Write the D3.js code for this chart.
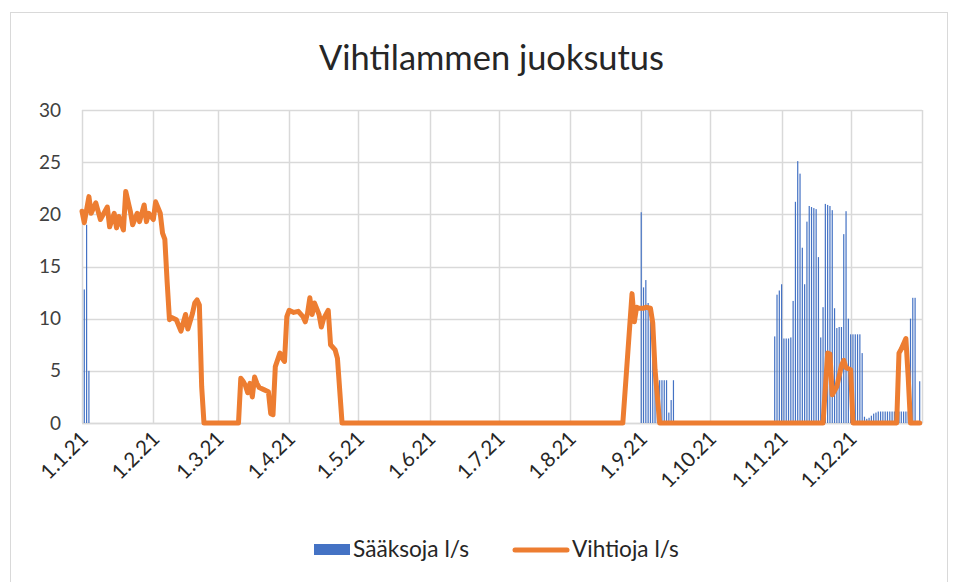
<!DOCTYPE html>
<html><head><meta charset="utf-8">
<script src="https://cdn.jsdelivr.net/npm/d3@7"></script>
<style>body{margin:0;background:#fff} text{font-family:Lato,"Open Sans",sans-serif}</style>
</head><body><svg id="c" width="959" height="582"></svg>
<script>
const chartTitle = "Vihtilammen juoksutus";
const seriesNames = ["Sääksoja l/s", "Vihtioja l/s"];
const monthTicks = ["2021-01-01","2021-02-01","2021-03-01","2021-04-01","2021-05-01","2021-06-01",
  "2021-07-01","2021-08-01","2021-09-01","2021-10-01","2021-11-01","2021-12-01"];
const yTicks = [0, 5, 10, 15, 20, 25, 30];

// Sääksoja l/s (columns): day of year (0 = 1.1.21) and value
const saaksojaDays = [1,2,3,
  243,244,245,246,247,248,249,250,251,252,253,254,255,256,257,
  301,302,303,304,305,306,307,308,309,310,311,312,313,314,315,316,317,318,319,320,
  321,322,323,324,325,326,327,328,329,330,331,332,333,
  334,335,336,337,338,339,340,341,342,343,344,345,
  346,347,348,349,350,351,352,353,354,355,356,357,358,359,360,361,362,364];
const saaksojaValues = [12.8,19.0,5.0,
  20.2,13.0,13.7,11.5,10.0,8.0,6.0,4.1,4.1,4.1,4.1,4.1,1.0,2.2,4.1,
  8.3,12.3,12.7,13.3,8.1,8.1,8.1,8.2,11.7,21.2,25.1,23.9,16.8,13.3,19.3,20.8,20.7,20.6,20.5,15.9,
  8.2,11.1,21.0,20.9,20.8,20.4,11.0,9.1,9.2,9.2,18.1,20.3,10.0,
  8.5,8.5,8.5,8.5,8.5,6.7,0.6,0.4,0.5,0.7,0.9,1.0,
  1.1,1.1,1.1,1.1,1.1,1.1,1.1,1.1,1.1,1.1,1.1,1.1,1.1,1.1,10.0,12.0,12.0,4.0];

// Vihtioja l/s (line): day of year and value
const vihtiojaDays = [0,1,3,4,6,8,11,12,14,15,16,18,19,21,22,24,25,27,28,29,31,32,34,35,36,37,38,
  39,41,43,45,46,48,49,50,51,52,53,
  68,69,70,71,72,73,74,75,76,77,79,81,82,83,84,86,87,88,89,90,92,94,96,97,98,99,100,101,103,104,105,107,108,110,111,113,
  235,239,240,241,242,244,245,247,248,249,251,
  322,324,325,326,328,330,331,332,334,335,
  354,355,356,358,359,360,364];
const vihtiojaValues = [20.3,19.2,21.7,20.1,21.1,19.5,20.7,18.8,20.1,18.7,19.8,18.5,22.2,20.3,19.0,20.1,19.3,20.9,19.3,20.1,19.5,21.2,20.1,18.2,17.6,13.5,9.9,
  10.1,9.9,8.8,10.4,9.0,10.5,11.5,11.8,11.3,3.5,0,
  0,4.3,4.0,3.6,2.9,3.8,2.5,4.4,3.8,3.4,3.2,3.0,0.9,0.8,5.4,6.7,6.2,5.9,10.2,10.8,10.6,10.7,10.2,9.7,10.5,12.0,10.4,11.5,10.4,9.2,10.0,10.8,7.5,7.0,6.2,0,
  0,12.4,9.7,11.1,11.0,11.0,11.1,11.0,9.6,5.1,0,
  0,6.7,6.6,2.7,3.5,5.5,6.0,5.3,5.1,0,
  0,6.7,7.1,8.1,4.4,0,0];

const W = 959, H = 582;
const M = {left: 82, right: 922, top: 110, bottom: 423};
const svg = d3.select("#c");
const start = new Date(2021, 0, 1), end = new Date(2022, 0, 1);
const x = d3.scaleTime().domain([start, end]).range([M.left, M.right]);
const y = d3.scaleLinear().domain([0, 30]).range([M.bottom, M.top]);
const dayToDate = d => new Date(2021, 0, 1 + d);
const fit = (sel, base, target) => {
  sel.attr("font-size", base);
  const w = sel.node().getComputedTextLength();
  sel.attr("font-size", base * target / w);
};

svg.append("rect").attr("x", 0).attr("y", 0).attr("width", W).attr("height", H).attr("fill", "#fff");
svg.append("rect").attr("x", 10.5).attr("y", 12.5).attr("width", 937).attr("height", 600)
  .attr("fill", "none").attr("stroke", "#D9D9D9").attr("stroke-width", 1);

// title
const t = svg.append("text").attr("x", 491.5).attr("y", 70).attr("text-anchor", "middle")
  .attr("fill", "#262626").text(chartTitle);
fit(t, 30, 345);

// horizontal grid
svg.append("g").selectAll("line").data(yTicks).join("line")
  .attr("x1", M.left).attr("x2", M.right)
  .attr("y1", d => Math.round(y(d)) + 0.5).attr("y2", d => Math.round(y(d)) + 0.5)
  .attr("stroke", "#D9D9D9").attr("stroke-width", 1.5);
// vertical grid at month starts
const monthDates = monthTicks.map(s => new Date(s + "T00:00:00")).concat([end]);
svg.append("g").selectAll("line").data(monthDates).join("line")
  .attr("x1", d => Math.round(x(d)) + 0.5).attr("x2", d => Math.round(x(d)) + 0.5)
  .attr("y1", M.top).attr("y2", M.bottom)
  .attr("stroke", "#D9D9D9").attr("stroke-width", 1.5);

// y axis labels
const yAxis = d3.axisLeft(y).tickValues(yTicks).tickSize(0).tickPadding(0);
const gy = svg.append("g").attr("transform", `translate(61,0)`).call(yAxis);
gy.select(".domain").remove();
gy.selectAll("text").attr("font-size", 19).attr("fill", "#404040").attr("font-family", "Lato, sans-serif");

// x axis labels
const fmt = d => `${d.getDate()}.${d.getMonth() + 1}.${String(d.getFullYear()).slice(2)}`;
const xAxis = d3.axisBottom(x).tickValues(monthTicks.map(s => new Date(s + "T00:00:00"))).tickFormat(fmt).tickSize(0);
const gx = svg.append("g").attr("transform", `translate(0,${M.bottom})`).call(xAxis);
gx.select(".domain").attr("stroke", "#D9D9D9").attr("stroke-width", 1.5);
gx.selectAll("text").attr("font-size", 20.5).attr("fill", "#262626").attr("font-family", "Lato, sans-serif")
  .attr("text-anchor", "end").attr("dy", 0).attr("y", 0)
  .attr("transform", "translate(7,17) rotate(-45)");

// bars
const saaksoja = saaksojaDays.map((d, i) => ({date: dayToDate(d), v: saaksojaValues[i]}));
svg.append("g").selectAll("rect").data(saaksoja).join("rect")
  .attr("x", d => x(d.date) - 0.6).attr("width", 1.2)
  .attr("y", d => y(d.v)).attr("height", d => y(0) - y(d.v))
  .attr("fill", "#4472C4");

// line
const vihtioja = vihtiojaDays.map((d, i) => ({date: dayToDate(d), v: vihtiojaValues[i]}));
svg.append("path").datum(vihtioja)
  .attr("d", d3.line().x(d => x(d.date)).y(d => y(d.v)))
  .attr("fill", "none").attr("stroke", "#ED7D31").attr("stroke-width", 5)
  .attr("stroke-linejoin", "round").attr("stroke-linecap", "round");

// legend
const lg = svg.append("g");
lg.append("rect").attr("x", 314).attr("y", 544).attr("width", 36).attr("height", 11).attr("fill", "#4472C4");
const l1 = lg.append("text").attr("x", 353).attr("y", 557).attr("fill", "#262626").text(seriesNames[0]);
fit(l1, 18, 116);
lg.append("line").attr("x1", 515).attr("x2", 567).attr("y1", 550).attr("y2", 550)
  .attr("stroke", "#ED7D31").attr("stroke-width", 5).attr("stroke-linecap", "round");
const l2 = lg.append("text").attr("x", 572).attr("y", 557).attr("fill", "#262626").text(seriesNames[1]);
fit(l2, 18, 107);
</script></body></html>
